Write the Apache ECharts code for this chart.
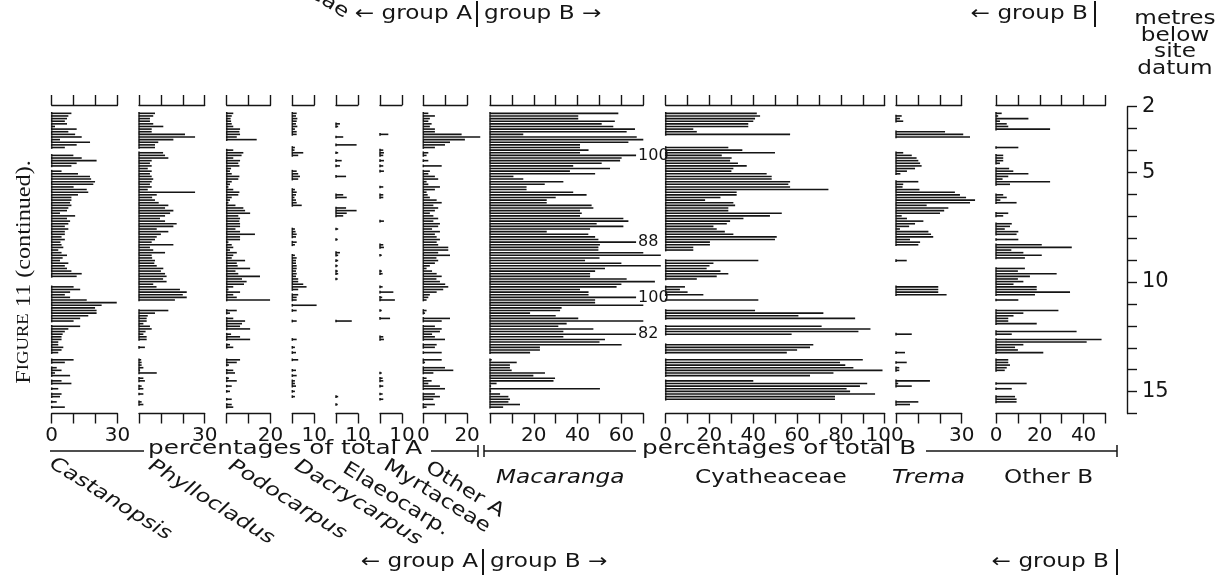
<!DOCTYPE html>
<html>
<head>
<meta charset="utf-8">
<title>Pollen diagram, figure 11 (continued)</title>
<script src="https://cdn.jsdelivr.net/npm/echarts@6/dist/echarts.min.js"></script>
<style>
  html, body { margin: 0; padding: 0; background: #fff; }
  #chart { width: 1231px; height: 578px; }
</style>
</head>
<body>
<div id="chart"></div>
<script>
// Sample depths, metres below site datum (no samples between 13.22 and 13.55 m)
const depths = [
  2.30, 2.42, 2.54, 2.66, 2.78, 2.90, 3.02, 3.14, 3.26, 3.38,
  3.50, 3.62, 3.74, 3.86, 3.98, 4.10, 4.22, 4.34, 4.46, 4.58,
  4.70, 4.82, 4.94, 5.06, 5.18, 5.30, 5.42, 5.54, 5.66, 5.78,
  5.90, 6.02, 6.14, 6.26, 6.38, 6.50, 6.62, 6.74, 6.86, 6.98,
  7.10, 7.22, 7.34, 7.46, 7.58, 7.70, 7.82, 7.94, 8.06, 8.18,
  8.30, 8.42, 8.54, 8.66, 8.78, 8.90, 9.02, 9.14, 9.26, 9.38,
  9.50, 9.62, 9.74, 9.86, 9.98, 10.10, 10.22, 10.34, 10.46, 10.58,
  10.70, 10.82, 10.94, 11.06, 11.18, 11.30, 11.42, 11.54, 11.66, 11.78,
  11.90, 12.02, 12.14, 12.26, 12.38, 12.50, 12.62, 12.74, 12.86, 12.98,
  13.10, 13.22,
  13.55, 13.67, 13.79, 13.91, 14.03, 14.15, 14.27, 14.39, 14.51, 14.63,
  14.75, 14.87, 14.99, 15.11, 15.23, 15.35, 15.47, 15.59, 15.71
];

// Group A taxa, percentages of total A
const castanopsis = [
  9, 7.6, 7, 6, 7, 1.5, 11.4, 7.6, 10.7, 13.7,
  3.8, 17.5, 11.4, 6, 0, 0, 9.9, 13.7, 20.5, 11.4,
  9, 0, 4.5, 12, 17.5, 18, 19.8, 19, 10, 16,
  16.7, 12, 9, 9, 8.4, 9, 7.6, 7, 3.8, 10.7,
  7, 8.4, 7.6, 6, 7.6, 6, 6, 4.5, 6, 4,
  4.5, 5.3, 3, 4.5, 7, 5, 3.8, 7.6, 6, 7,
  9, 13.7, 11.4, 0, 0, 0, 10, 13, 8.4, 6,
  8.4, 16, 29.7, 22.8, 19.8, 20.5, 20.5, 16.7, 13, 10,
  0, 13, 7.6, 6, 5, 4.5, 4.5, 3, 3, 5.3,
  4.5, 3,
  10, 6, 0, 2.3, 4.5, 1.5, 8.4, 0, 4.5, 9,
  0, 3, 0, 4.5, 3.8, 0, 2.3, 0, 6
];
const phyllocladus = [
  7.3, 6.5, 5, 5, 6.5, 11.1, 5.8, 5.8, 21, 25.6,
  15.7, 8.8, 7.3, 7.3, 0, 11, 11.9, 13.4, 5.8, 5,
  5.8, 4, 5.8, 5, 5.8, 6.5, 5.8, 5, 5.8, 4,
  25.6, 8.1, 6, 7.3, 9, 13.4, 11.9, 15.7, 14.2, 11.9,
  9.6, 11.9, 17.2, 15.7, 8.1, 13.4, 10, 8.1, 7.3, 5.8,
  15.7, 5, 6.5, 11.9, 5.8, 6, 7.3, 7, 8.1, 11.1,
  10, 11.9, 12.6, 11, 12.6, 6.5, 8, 18.7, 21.8, 20,
  21.8, 16.4, 0, 0, 0, 13.4, 7.3, 4, 3.5, 3.5,
  2, 5, 5.8, 3, 2, 3.5, 3.5, 0, 0, 2.7,
  0, 0,
  1, 1.2, 1.2, 2, 0.5, 8.1, 0, 2, 2.7, 0,
  1.2, 2, 0, 2, 0, 0, 1.2, 2, 0
];
const podocarpus = [
  3, 2.3, 1.8, 2, 2.3, 3, 6.1, 5.8, 6.1, 4.6,
  13.7, 0, 0, 0, 3, 7.6, 6.8, 3, 6.1, 5.3,
  5.8, 2, 1.5, 2.3, 5.8, 5.3, 2.3, 1.5, 0.8, 3,
  5.8, 5.3, 2.3, 1.5, 0.8, 4, 7.6, 8.4, 10.7, 5.3,
  6.1, 5.8, 6.1, 6.1, 4, 6.1, 12.9, 6.1, 6.1, 0.8,
  2.3, 3, 1.5, 4.6, 3, 2.3, 8.4, 4.6, 5, 10.7,
  4, 5.3, 15.2, 7, 9.1, 7.9, 3, 0.8, 6.1, 3,
  4.6, 19.8, 0, 0, 0, 4.6, 1.5, 0, 3, 8.4,
  7, 6.1, 10.7, 0, 2, 6.1, 10.7, 0, 1.5, 3,
  0, 0,
  6.1, 4.6, 1, 0, 3, 3.8, 0, 1, 4.6, 0,
  2.3, 0, 1.5, 0, 0, 2.3, 0, 2.3, 3
];
const dacrycarpus = [
  2, 1.7, 2.3, 2, 1.7, 2.3, 1.2, 2, 2, 0,
  0, 0, 0, 1.2, 1, 5, 2.7, 0, 0, 0,
  0, 0, 2, 2.7, 3.5, 2.7, 0, 0, 0, 1.2,
  2, 1.7, 1, 1.7, 2, 4.3, 0, 0, 0, 0,
  0, 0, 0, 0, 1.2, 1.5, 2, 1.7, 0, 2,
  1.2, 0, 0, 0, 1.2, 2, 1.7, 1.7, 2, 2,
  1.7, 2, 1.7, 2.7, 2.7, 5, 6.5, 2.7, 0, 2.7,
  2, 2, 0, 11.1, 0, 2, 0, 0, 0, 2,
  0, 0, 0, 0, 0, 0, 2, 0, 0, 1.2,
  0, 1.7,
  2.7, 0, 0, 0, 1.7, 0, 2, 0, 1.2, 1.2,
  1.7, 0, 1.2, 0, 1.2, 0, 0, 0, 0
];
const elaeocarpaceae = [
  0, 0, 0, 0, 1.8, 1, 0, 0, 0, 3.3,
  0, 0, 9.4, 0, 0, 1, 0, 0, 2.6, 0,
  1.8, 0, 0, 0, 4.6, 0, 0, 0, 0, 0,
  0, 3.3, 4.9, 0, 0, 0, 4.6, 9.4, 4.9, 3.3,
  0, 0, 0, 0, 1, 0, 0, 0, 0.8, 0,
  0, 0, 0, 1.8, 1, 0, 1, 0, 0.8, 0,
  0.8, 1, 0, 0.8, 0, 0, 0, 0, 0, 0,
  0, 0, 0, 0, 0, 0, 0, 0, 0, 7.2,
  0, 0, 0, 0, 0, 0, 0, 0, 0, 0,
  0, 0,
  0, 0, 0, 0, 0, 0, 0, 0, 0, 0,
  0, 0, 0, 0, 1, 0, 0, 0.8, 0
];
const myrtaceae = [
  0, 0, 0, 0, 0, 0, 0, 0, 3.8, 0,
  0, 0, 0, 0, 1.5, 1.8, 1.5, 0, 1.8, 0,
  1.5, 0, 1.8, 0, 0, 0, 0, 0, 1.5, 0,
  0, 1.5, 1.5, 0, 0, 0, 0, 0, 0, 0,
  0, 1.8, 0, 0, 0, 0, 0, 0, 0, 0,
  1.5, 1.8, 0, 0, 0.8, 0, 0, 0, 0, 0,
  0.8, 1.2, 0, 0, 0, 0, 1.2, 0, 6.1, 0,
  1, 6.8, 0, 0, 0, 0.8, 0, 0, 4.6, 0,
  0, 0, 0, 0, 0, 1.5, 1.8, 0, 0, 0,
  0, 0,
  0, 0, 0, 0, 0, 0.8, 0, 1.2, 1.5, 0,
  1.5, 0, 0, 1.2, 0, 1.5, 0, 0, 0
];
const otherA = [
  2.3, 5.3, 3, 2.3, 3.8, 3, 5.3, 5.3, 17.5, 26,
  19, 12.2, 9.9, 5.3, 0, 2.3, 1.5, 0, 2.3, 0,
  8.4, 0, 3, 2.3, 5.3, 6.8, 1.5, 2.3, 7.6, 5.3,
  1.5, 2, 3, 6.1, 8.4, 4.6, 6.8, 5.3, 3, 4.6,
  6.8, 4.6, 7.6, 6.8, 4, 7.6, 5.3, 6.1, 7.6, 6.1,
  6.8, 11.4, 11.4, 6.8, 12.2, 6, 6.8, 5.3, 3, 1.5,
  4, 6.1, 8.4, 6, 7.6, 10, 11.4, 9.1, 6.1, 3,
  2.3, 1.5, 0, 0, 0, 1.5, 0.8, 0, 12.2, 8.4,
  0, 5.3, 8.4, 7.6, 4, 5.3, 9.9, 0, 6.1, 5.3,
  0, 8.4,
  8.4, 0.8, 0, 9.9, 13.7, 4.6, 0, 1.5, 3.8, 2.3,
  7.6, 9.9, 0, 5.3, 7.6, 4.6, 0, 5.3, 1.5
];

// Group B taxa, percentages of total B
const macaranga = [
  58.6, 40.3, 40.3, 57, 51, 56.3, 66.2, 62.4, 15.2, 67,
  70, 63.2, 41.1, 41.1, 45, 41.1, 100, 60.1, 59.4, 51,
  38, 54.8, 36.5, 48, 10.7, 15.2, 33.5, 25, 16.7, 16.7,
  38, 44.1, 30, 25.9, 25.9, 46.4, 47.2, 41.1, 41.9, 41.1,
  60.9, 63.2, 48.7, 60.9, 45.7, 25.9, 44.9, 48, 49.5, 88,
  50.2, 49.5, 49.5, 70, 78, 50, 43.4, 60, 78, 52.5,
  48, 45.7, 45.7, 62.4, 75.3, 60, 57.8, 41.1, 45, 45,
  100, 48, 48, 70, 32.7, 32, 18.3, 30, 40.3, 70,
  35, 31.2, 47.2, 33.5, 82, 33.5, 52.5, 50, 60.1, 22.8,
  22.8, 18.3,
  0.8, 12.2, 9.1, 9.1, 9.9, 25.1, 19.8, 29.7, 29, 3,
  0.5, 50.2, 0.5, 4.6, 8.4, 9.1, 8.4, 13.7, 6
];
const cyatheaceae = [
  41.6, 43.1, 40.8, 40, 37.7, 37.7, 12.6, 14.2, 56.8, 0,
  0, 0, 0, 28.6, 35, 49.9, 25.6, 30.1, 29.4, 33,
  37, 30.9, 30, 46.1, 48.4, 48.4, 56.8, 56, 56.8, 74.3,
  32.4, 32.4, 25, 18, 30.9, 31.7, 28.6, 28.6, 53, 47.6,
  35.5, 29.4, 27.9, 21.8, 23.3, 27, 30.9, 50.7, 49.9, 20.2,
  20.2, 12.6, 12.6, 0, 0, 0, 42.3, 21.8, 20, 18.7,
  25, 28.6, 23.3, 14.2, 0, 0, 8.8, 6.5, 10, 17.2,
  0, 42.3, 0, 0, 0, 40.8, 72, 60.6, 86.5, 0,
  0, 71.2, 93.5, 88, 57.5, 0, 0, 0, 67.4, 65.9,
  60, 55.3,
  90, 79.6, 82, 85.7, 99, 76.6, 65.9, 0, 40, 92,
  88.7, 82.6, 84.2, 95.6, 77.3, 77.3, 0, 0, 0
];
const trema = [
  0, 2.6, 1.8, 3.3, 0, 0, 0, 22.4, 30.7, 33.8,
  0, 0, 0, 0, 0, 3.3, 7.2, 9.4, 10.2, 11,
  11.7, 8.7, 5, 2, 0, 0, 10.2, 3.3, 3, 10.7,
  26.9, 29.2, 32, 36.1, 33.8, 14, 23.9, 22, 20.1, 2.6,
  5, 12.5, 8.7, 6, 1.8, 14.8, 16, 17, 6.4, 11,
  10.2, 0, 0, 0, 0, 0, 4.9, 0, 0, 0,
  0, 0, 0, 0, 0, 0, 19.3, 19.3, 19.3, 23.1,
  0, 0, 0, 0, 0, 0, 0, 0, 0, 0,
  0, 0, 0, 0, 7.2, 0, 0, 0, 0, 0,
  0, 4.1,
  0, 4.9, 0, 1.5, 1.5, 0, 0, 0, 15.5, 1,
  7.2, 0, 0, 0, 0, 0, 10.2, 6.4, 0
];
const otherB = [
  2.6, 1, 14.8, 1.8, 4.9, 5.6, 24.7, 0, 0, 0,
  0, 0, 0, 10.2, 0, 0, 3.3, 3.3, 3.3, 1.8,
  0, 6, 7.9, 14.8, 5.6, 3, 24.7, 6.4, 0, 0,
  0, 3.3, 4.9, 2, 9.4, 0, 0, 0, 5.6, 3.3,
  0, 0, 7.2, 6.4, 4, 10.2, 9.4, 0, 10.2, 0,
  20.9, 34.6, 7, 12.5, 20.9, 13.2, 0, 0, 0, 13.2,
  10, 27.7, 15.5, 10, 12.5, 8, 18.6, 18.6, 33.8, 17.8,
  0, 10.2, 0, 0, 0, 28.5, 12.5, 8, 5.6, 5.6,
  18.6, 0, 0, 36.8, 7.2, 0, 48.2, 41.4, 12.5, 8.7,
  10, 21.6,
  5.6, 5.6, 6.4, 4.9, 4, 0, 0, 0, 0, 14,
  0, 7.2, 0, 0, 8.7, 9.4, 9.4, 0, 0
];

// Axis scales and the tick values that carry a number
const taxonNames = ['Castanopsis', 'Phyllocladus', 'Podocarpus', 'Dacrycarpus', 'Elaeocarp.',
  'Myrtaceae', 'Other A', 'Macaranga', 'Cyatheaceae', 'Trema', 'Other B'];
const taxonValues = [castanopsis, phyllocladus, podocarpus, dacrycarpus, elaeocarpaceae,
  myrtaceae, otherA, macaranga, cyatheaceae, trema, otherB];
const axisMax = [30, 30, 20, 10, 10, 10, 20, 70, 100, 30, 50];
const axisTickLabels = [[0, 30], [30], [20], [10], [10], [10], [0, 20], [20, 40, 60],
  [0, 20, 40, 60, 80, 100], [30], [0, 20, 40]];
const depthTickLabels = [2, 5, 10, 15];

// ---------------- layout ----------------
const INK = '#151515';
const FONT = '"DejaVu Sans", "Liberation Sans", sans-serif';
const SERIF = '"Liberation Serif", "DejaVu Serif", serif';
const UNIT = 2.19;                 // pixels per percent
const GRID_TOP = 105, GRID_H = 308.5;
const DEPTH_MIN = 1.92, DEPTH_MAX = 16;
const HALF_STEP = 0.06;            // half the sampling interval, for the zero line
const panelLeft = [51.7, 139, 226.7, 292.3, 336, 380, 423.3, 490, 665.7, 896, 996];
const SX = 1.22;                   // horizontal stretch for the wide lettering

// Macaranga values beyond the frame are cut short and written out
const overflow = { 7: { from: 80, stop: 66.7 } };

function barRenderer(panelIndex) {
  const cut = overflow[panelIndex];
  return function (params, api) {
    const v = api.value(0);
    const d = api.value(1);
    if (!(v > 0)) return null;
    const flagged = !!cut && v >= cut.from;
    const reach = flagged ? cut.stop : v;
    const a = api.coord([0, d]);
    const b = api.coord([reach, d]);
    const up = api.coord([0, d - HALF_STEP]);
    const dn = api.coord([0, d + HALF_STEP]);
    const kids = [
      { type: 'rect', shape: { x: a[0], y: a[1] - 0.8, width: b[0] - a[0], height: 1.6 },
        style: { fill: INK } },
      { type: 'rect', shape: { x: a[0] - 0.75, y: up[1], width: 1.5, height: dn[1] - up[1] },
        style: { fill: INK } }
    ];
    if (flagged) {
      kids.push({ type: 'text', x: b[0] + 2, y: a[1],
        style: { text: String(v), fill: INK, font: '16px ' + FONT, align: 'left', verticalAlign: 'middle' } });
    }
    return { type: 'group', children: kids };
  };
}

const grid = [], xAxis = [], yAxis = [], series = [];
taxonNames.forEach((name, i) => {
  grid.push({ left: panelLeft[i], top: GRID_TOP, width: axisMax[i] * UNIT, height: GRID_H });
  const base = {
    gridIndex: i, type: 'value', min: 0, max: axisMax[i], interval: 10,
    axisLine: { show: true, onZero: false, lineStyle: { color: INK, width: 1.4 } },
    axisTick: { show: true, length: 10, lineStyle: { color: INK, width: 1.4 } },
    splitLine: { show: false }
  };
  xAxis.push(Object.assign({}, base, { position: 'top', axisLabel: { show: false } }));
  xAxis.push(Object.assign({}, base, {
    position: 'bottom',
    axisLabel: {
      show: true, margin: 12, color: INK, fontSize: 20, fontFamily: FONT,
      formatter: v => (axisTickLabels[i].indexOf(v) >= 0 ? String(v) : '')
    }
  }));
  yAxis.push({ gridIndex: i, type: 'value', inverse: true, min: DEPTH_MIN, max: DEPTH_MAX, show: false });
  series.push({
    name, type: 'custom', coordinateSystem: 'cartesian2d',
    xAxisIndex: 2 * i + 1, yAxisIndex: i, clip: false, silent: true,
    dimensions: ['percent', 'depth'],
    data: depths.map((d, k) => [taxonValues[i][k], d]),
    renderItem: barRenderer(i)
  });
});

// depth scale on the right
grid.push({ left: 1127, top: 106.7, width: 1, height: 306.8 });
xAxis.push({ gridIndex: taxonNames.length, type: 'value', show: false });
yAxis.push({
  gridIndex: taxonNames.length, type: 'value', position: 'right', inverse: true,
  min: 2, max: 16, interval: 1,
  axisLine: { show: true, lineStyle: { color: INK, width: 1.4 } },
  axisTick: { show: true, length: 10, lineStyle: { color: INK, width: 1.4 } },
  axisLabel: {
    show: true, margin: 14, color: INK, fontSize: 21, fontFamily: FONT,
    formatter: v => (depthTickLabels.indexOf(v) >= 0 ? String(v) : '')
  },
  splitLine: { show: false }
});

// ---------------- lettering ----------------
const ROT = -32 * Math.PI / 180;
function txt(text, x, y, o) {
  o = o || {};
  return {
    type: 'text', x, y, rotation: o.rot || 0, scaleX: o.sx || SX, silent: true,
    style: {
      text, fill: INK,
      font: (o.italic ? 'italic ' : '') + (o.size || 19) + 'px ' + FONT,
      align: o.align || 'left', verticalAlign: 'middle'
    }
  };
}
function rule(x1, y1, x2, y2, w) {
  return { type: 'line', silent: true, shape: { x1, y1, x2, y2 }, style: { stroke: INK, lineWidth: w || 1.5 } };
}

const graphics = [
  // slanted names under group A
  txt('Castanopsis', 51, 462, { rot: ROT, italic: true }),
  txt('Phyllocladus', 150, 464, { rot: ROT, italic: true }),
  txt('Podocarpus', 230, 464, { rot: ROT, italic: true }),
  txt('Dacrycarpus', 296, 464, { rot: ROT, italic: true }),
  txt('Elaeocarp.', 344, 467, { rot: ROT }),
  txt('Myrtaceae', 385, 464, { rot: ROT }),
  txt('Other A', 427, 466, { rot: ROT }),
  // names under group B
  txt('Macaranga', 496, 478, { italic: true }),
  txt('Cyatheaceae', 695, 478),
  txt('Trema', 892, 478, { italic: true }),
  txt('Other B', 1004, 478),
  // "percentages of total" rules
  rule(50, 451, 144, 451),
  txt('percentages of total A', 148, 449, { sx: 1.3 }),
  rule(431, 451, 478, 451), rule(478, 445, 478, 457),
  rule(484, 445, 484, 457), rule(484, 451, 636, 451),
  txt('percentages of total B', 642, 449, { sx: 1.3 }),
  rule(926, 451, 1117, 451), rule(1117, 445, 1117, 457),
  // group markers, bottom
  txt('\u2190 group A', 478, 562, { align: 'right' }),
  rule(483, 549, 483, 575, 2),
  txt('group B \u2192', 490, 562),
  txt('\u2190 group B', 1109, 562, { align: 'right' }),
  rule(1117, 549, 1117, 575, 2),
  // group markers, top
  txt('Myrtaceae', 347, 14, { rot: ROT, align: 'right' }),
  txt('\u2190 group A', 472, 14, { align: 'right' }),
  rule(477, 1, 477, 27, 2),
  txt('group B \u2192', 484, 14),
  txt('\u2190 group B', 1088, 14, { align: 'right' }),
  rule(1095, 1, 1095, 27, 2),
  // depth scale title
  txt('metres', 1175, 19, { align: 'center' }),
  txt('below', 1175, 36, { align: 'center' }),
  txt('site', 1175, 52, { align: 'center' }),
  txt('datum', 1175, 69, { align: 'center' }),
  // caption
  {
    type: 'text', x: 24, y: 272, rotation: Math.PI / 2, scaleX: 1.1, silent: true,
    style: {
      text: '{a|F}{b|IGURE}{a| 11 (continued).}',
      align: 'center', verticalAlign: 'middle',
      rich: {
        a: { font: '22px ' + SERIF, fill: INK },
        b: { font: '17px ' + SERIF, fill: INK }
      }
    }
  }
];

const chart = echarts.init(document.getElementById('chart'), null, { renderer: 'canvas' });
chart.setOption({
  backgroundColor: '#ffffff',
  animation: false,
  grid, xAxis, yAxis, series,
  graphic: { elements: graphics }
});
</script>
</body>
</html>
